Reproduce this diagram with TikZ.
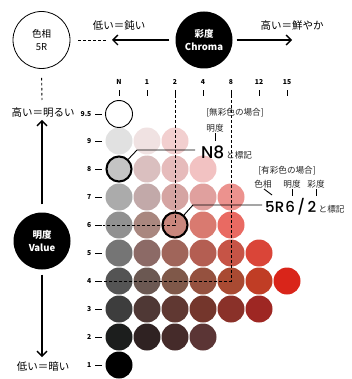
\documentclass[tikz,border=0pt]{standalone}
\usepackage{fontspec}
\setmainfont{Noto Sans CJK JP}
\newfontfamily\pop{Poppins Medium}
\usetikzlibrary{arrows.meta}
\begin{document}
\begin{tikzpicture}[x=1pt,y=-1pt,
  dot/.style={circle,minimum size=27pt,inner sep=0pt,draw=none},
  bignode/.style={circle,minimum size=57pt,inner sep=0pt,align=center,font=\fontsize{9.5}{13}\selectfont},
  axisarrow/.style={line width=1.3pt,-{Straight Barb[length=5pt,width=10pt,line width=1.3pt]}},
  dashline/.style={line width=0.9pt,dash pattern=on 2.6pt off 2.4pt},
  jplabel/.style={font=\fontsize{10.5}{12}\selectfont,inner sep=0pt},
  note/.style={font=\fontsize{8.6}{10}\selectfont,inner sep=0pt,text=black!85},
  ticklabel/.style={font=\bfseries\fontsize{6.8}{7}\selectfont,inner sep=0pt},
  thin/.style={line width=0.9pt}]
\useasboundingbox (0,0) rectangle (351,379);

% --- header circles
\node[bignode,draw,line width=0.8pt] (hue) at (41.5,40) {色相\\5R};
\node[bignode,fill=black,text=white,font=\bfseries\fontsize{9.5}{13}\selectfont] (chroma) at (204,40) {彩度\\Chroma};
\node[bignode,fill=black,text=white,font=\bfseries\fontsize{9.5}{13}\selectfont] (value) at (42,241) {明度\\Value};

\coordinate (lowc) at (112,40);
\coordinate (highc) at (292,40);
\coordinate (highv) at (42,120);
\coordinate (lowv) at (42,357);
\coordinate (topv) at (42,100);

\draw[axisarrow,shorten <=6pt] (chroma.west) -- (lowc);
\draw[axisarrow,shorten <=4pt] (chroma.east) -- (highc);
\draw[dashline,shorten <=8pt,shorten >=4pt] (hue.east) -- (lowc);
\draw[axisarrow,shorten <=8pt] (value.north) -- (highv);
\draw[axisarrow,shorten <=5pt] (value.south) -- (lowv);
\draw[dashline,shorten <=9pt] (hue.south) -- (topv);

\node[jplabel] (lowclab) at (119,26) {低い＝鈍い};
\node[jplabel] (highclab) at (292,26) {高い＝鮮やか};
\node[jplabel] (highvlab) at (43,113) {高い＝明るい};
\node[jplabel] (lowvlab) at (43,367) {低い＝暗い};

% --- column labels
\foreach \n/\x in {N/119,1/147,2/175,4/203,8/231,12/259,15/287}{
  \node[ticklabel] (col\n) at (\x,82) {\n};
  \draw[thin] (\x,90.5) -- (\x,96);
}
% --- row labels
\foreach \n/\t/\y in {95/9.5/114,9/9/141,8/8/169,7/7/197,6/6/225,5/5/253,4/4/281,3/3/309,2/2/337,1/1/365}{
  \node[ticklabel,anchor=east] (row\n) at (91.5,\y) {\t};
  \draw[thin] (95,\y) -- (102,\y);
}

% --- circles
\foreach \r/\y/\lst in {
  9/141/{N/119/E1E1E1,1/147/F0E2E2,2/175/F2CFCF},
  8/169/{N/119/C4C4C4,1/147/DABFBF,2/175/E6BBBB,4/203/F2C2C2},
  7/197/{N/119/ABABAB,1/147/C2A9A9,2/175/D5A4A2,4/203/E0A09E,8/231/EC928E},
  6/225/{N/119/919191,1/147/A9877F,2/175/C9877D,4/203/D97A70,8/231/E96A62},
  5/253/{N/119/757575,1/147/8C6A66,2/175/A0655A,4/203/B45E52,8/231/C65446,12/259/DA4538},
  4/281/{N/119/545454,1/147/6B5852,2/175/7F5849,4/203/95513F,8/231/A94A32,12/259/C03D25,15/287/D9251A},
  3/309/{N/119/3D3D3D,1/147/4F3835,2/175/603832,4/203/74362C,8/231/8A3129,12/259/9E2723},
  2/337/{N/119/1C1E1D,1/147/2F2222,2/175/452B2A,4/203/5B3535},
  1/365/{N/119/000000}}{
  \foreach \c/\x/\h in \lst {
    \definecolor{tmpc}{HTML}{\h}
    \node[dot,fill=tmpc] (c\c-\r) at (\x,\y) {};
  }
}
\node[dot,draw,line width=0.9pt,fill=white] (cN-95) at (119,114) {};
\draw[line width=2pt] (cN-8) circle (12.5pt);
\draw[line width=2pt] (c2-6) circle (12.5pt);

% --- dashed guide lines
\coordinate (gA) at (175,90);
\coordinate (gB) at (231,90);
\coordinate (hA) at (103,225);
\coordinate (hB) at (103,281);
\draw[dashline] (gA) -- (c2-6.center) -- (hA);
\draw[dashline] (gB) -- (c8-4.center) -- (hB);

% --- achromatic notation
\node[note] (achro) at (235,113) {[無彩色の場合]};
\node[note] (achv) at (215,128) {明度};
\draw[thin] (215,133) -- (215,141);
\node[font=\pop\fontsize{17}{17}\selectfont,inner sep=0pt,anchor=west] (n8) at (201,152) {N8};
\node[note,anchor=base west] (n8t) at ([xshift=1.5pt]n8.base east) {と標記};
\coordinate (kinkA) at (137,150);
\draw[thin] ([xshift=-6pt]n8.west |- kinkA) -- (kinkA) -- (cN-8);

% --- chromatic notation
\node[note] (chro) at (287,171) {[有彩色の場合]};
\node[note] (lh) at (263,184) {色相};
\node[note] (lv) at (292,184) {明度};
\node[note] (lc) at (316,184) {彩度};
\draw[thin] (264,189) -- (272,195);
\draw[thin] (292,189) -- (292,196);
\draw[thin] (316,189) -- (316,196);
\node[font=\pop\fontsize{15}{15}\selectfont,inner sep=0pt,anchor=west] (r562) at (265,207) {5R\hspace{1pt}6\hspace{2.5pt}/\hspace{2.5pt}2};
\node[note,anchor=base west] (r562t) at ([xshift=2pt]r562.base east) {と標記};
\coordinate (kinkB) at (193,205);
\draw[thin] ([xshift=-3pt]r562.west |- kinkB) -- (kinkB) -- (c2-6);
\end{tikzpicture}
\end{document}
